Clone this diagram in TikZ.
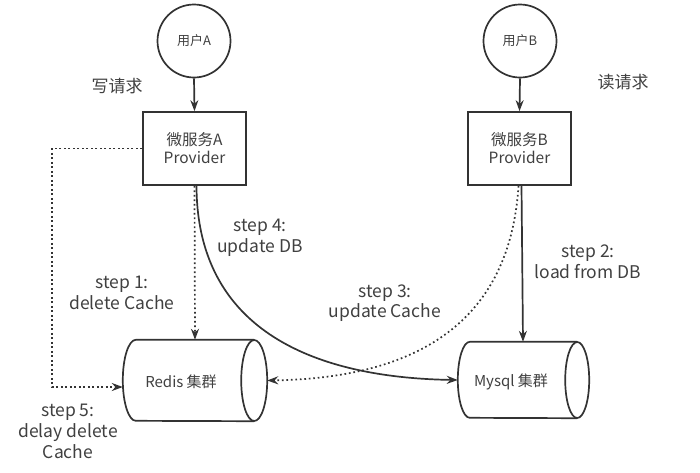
\documentclass[tikz,border=0pt]{standalone}
\usepackage{fontspec}
\setmainfont{Noto Sans CJK SC}
\usetikzlibrary{arrows.meta,calc}
\definecolor{ln}{HTML}{333333}
\definecolor{tx}{HTML}{404040}
\newcommand\mycyl[3]{%
  \draw[base] ($(#1.east)+(-#2,0)$) ellipse[x radius=#2pt, y radius=#3pt];
  \draw[base] ($(#1.north east)+(-#2,0)$) -- ($(#1.north west)+(#2,0)$)
    arc[start angle=90, end angle=270, x radius=#2pt, y radius=#3pt]
    -- ($(#1.south east)+(-#2,0)$);}
\begin{document}
\begin{tikzpicture}[x=1pt,y=-1pt,
  every node/.style={text=tx},
  base/.style={draw=ln, line width=1.7pt},
  user/.style={base, circle, minimum size=73pt, inner sep=0pt, font=\fontsize{13}{15}\selectfont},
  svc/.style={base, rectangle, minimum width=103pt, minimum height=73pt, align=center, font=\fontsize{15.5}{18}\selectfont},
  db/.style={rectangle, inner sep=0pt},
  dbt/.style={font=\fontsize{15}{17}\selectfont},
  lbl/.style={align=center, font=\fontsize{17.5}{20.5}\selectfont},
  hd/.style={font=\fontsize{17}{20}\selectfont},
  arr/.style={draw=ln, line width=1.7pt, -{Stealth[length=11pt,width=8pt]}},
  dot/.style={draw=ln, line width=1.7pt, dash pattern=on 1.7pt off 2.8pt, -{Stealth[length=11pt,width=8pt]}}
]
\useasboundingbox (0,0) rectangle (700,472);
\node[user] (ua) at (194,41) {用户A};
\node[user] (ub) at (520,41) {用户B};
\node[svc] (sa) at (194.5,148.5) {微服务A\\Provider};
\node[svc] (sb) at (519.5,148.5) {微服务B\\Provider};
\node[db, minimum width=144pt, minimum height=81pt] (redis) at (195,380.5) {};
\node[db, minimum width=131pt, minimum height=76pt] (mysql) at (523.5,380) {};
\mycyl{redis}{13}{40.5}
\mycyl{mysql}{12}{38}
\node[dbt] (rt) at (181,382) {Redis 集群};
\node[dbt] (mt) at (511,382) {Mysql 集群};
\node[hd] (hw) at (117,86) {写请求};
\node[hd] (hr) at (623,82) {读请求};
\node[lbl] (l4) at (260,238) {step 4:\\update DB};
\node[lbl] (l1) at (122,293) {step 1:\\delete Cache};
\node[lbl] (l3) at (385,303) {step 3:\\update Cache};
\node[lbl] (l2) at (588,262) {step 2:\\load from DB};
\node[lbl, font=\fontsize{17.5}{21}\selectfont] (l5) at (68,431) {step 5:\\delay delete\\Cache};
\draw[arr] (ua.south) -- (sa.north);
\draw[arr] (ub.south) -- (sb.north);
\draw[dot] (sa.south) -- (redis.north);
\draw[arr] ($(sa.south)+(2,0)$) .. controls (197,340) and (330,378) .. (mysql.west);
\draw[arr] ($(sb.south)+(2,0)$) -- ($(mysql.north)+(-0.5,0)$);
\draw[dot] ($(sb.south)+(-1,0)$) .. controls (510,320) and (420,378) .. (redis.east);
\coordinate (c5) at (52,387);
\draw[dot] (sa.west) -| (c5) -- (c5 -| redis.west);
\end{tikzpicture}
\end{document}
